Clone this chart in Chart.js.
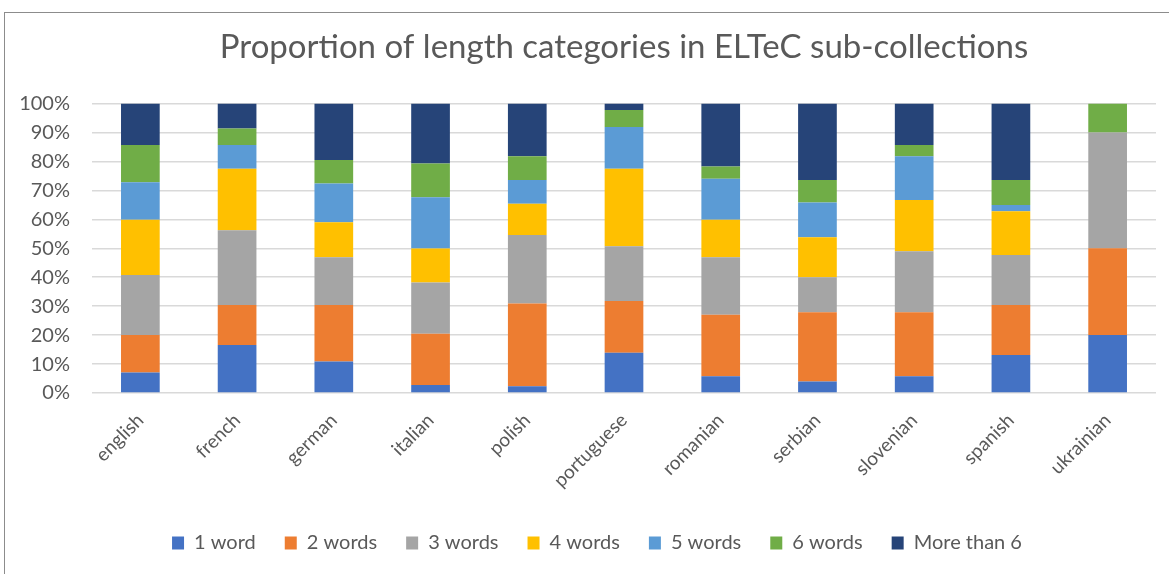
<!DOCTYPE html>
<html>
<head>
<meta charset="utf-8">
<script src="https://cdn.jsdelivr.net/npm/chart.js@4"></script>
<style>
  html, body { margin: 0; padding: 0; background: #fff; }
  #frame { position: absolute; left: 4px; top: 12px; width: 1180px; height: 580px; border-left: 1px solid #8c8c8c; border-top: 1px solid #8c8c8c; }
  #wrap { position: absolute; left: 0; top: 0; width: 1169px; height: 574px; }
</style>
</head>
<body>
<div id="frame"></div>
<div id="wrap"><canvas id="grafico"></canvas></div>
<script>
const categories = ['english', 'french', 'german', 'italian', 'polish', 'portuguese', 'romanian', 'serbian', 'slovenian', 'spanish', 'ukrainian'];

const oneWord    = [7.1, 16.6, 10.9, 2.8, 2.3, 13.9, 5.8, 4.0, 5.8, 13.1, 20];
const twoWords   = [12.9, 13.8, 19.5, 17.7, 28.6, 17.9, 21.2, 23.9, 22.1, 17.3, 30];
const threeWords = [20.8, 25.8, 16.5, 17.7, 23.7, 18.9, 19.9, 12.1, 21.1, 17.3, 40];
const fourWords  = [19.1, 21.3, 12.1, 11.7, 10.8, 26.8, 13.0, 13.8, 17.7, 15.1, 0];
const fiveWords  = [12.9, 8.2, 13.4, 17.7, 8.2, 14.4, 14.1, 12.0, 15.1, 2.2, 0];
const sixWords   = [12.9, 5.7, 8.1, 11.7, 8.2, 5.9, 4.3, 7.8, 3.9, 8.6, 10];
const moreThan6  = [14.3, 8.6, 19.5, 20.7, 18.2, 2.2, 21.7, 26.4, 14.3, 26.4, 0];

const yTicks = [0, 10, 20, 30, 40, 50, 60, 70, 80, 90, 100];

const txt = '#595959';
const ctx = document.getElementById('grafico');

// title centred over the plot area, legend nudged right (Excel-like)
const excelPlacement = {
    id: 'excelPlacement',
    afterLayout(chart) {
        const t = chart.titleBlock;
        if (t) {
            t.left = chart.chartArea.left;
            t.right = chart.chartArea.right;
        }
        if (chart.legend) {
            chart.legend.left = 38;
        }
    }
};

new Chart(ctx, {
    type: 'bar',
    data: {
        labels: categories,
        datasets: [
            { label: '1 word', data: oneWord, backgroundColor: '#4472C4' },
            { label: '2 words', data: twoWords, backgroundColor: '#ED7D31' },
            { label: '3 words', data: threeWords, backgroundColor: '#A5A5A5' },
            { label: '4 words', data: fourWords, backgroundColor: '#FFC000' },
            { label: '5 words', data: fiveWords, backgroundColor: '#5B9BD5' },
            { label: '6 words', data: sixWords, backgroundColor: '#70AD47' },
            { label: 'More than 6', data: moreThan6, backgroundColor: '#264478' }
        ]
    },
    plugins: [excelPlacement],
    options: {
        responsive: true,
        maintainAspectRatio: false,
        animation: false,
        layout: { padding: { left: 0, right: 13, top: 28, bottom: 11 } },
        datasets: { bar: { categoryPercentage: 1, barPercentage: 0.4, borderWidth: 0 } },
        scales: {
            x: {
                stacked: true,
                grid: { display: false },
                border: { display: false },
                afterFit: function (axis) { axis.height = 111; },
                ticks: {
                    color: txt,
                    font: { family: 'Lato', size: 19 },
                    minRotation: 45,
                    maxRotation: 45,
                    padding: 8
                }
            },
            y: {
                stacked: true,
                min: 0,
                max: 100,
                afterBuildTicks: function (axis) {
                    axis.ticks = yTicks.map(function (v) { return { value: v }; });
                },
                afterFit: function (axis) { axis.width = 92; },
                grid: { color: '#d9d9d9', lineWidth: 1.5, drawTicks: false },
                border: { display: false },
                ticks: {
                    color: txt,
                    font: { family: 'Lato', size: 20 },
                    padding: 22,
                    callback: function (v) { return v + '%'; }
                }
            }
        },
        plugins: {
            title: {
                display: true,
                text: 'Proportion of length categories in ELTeC sub-collections',
                color: txt,
                font: { family: 'Lato', size: 33, weight: 'normal' },
                padding: { top: 0, bottom: 36 }
            },
            legend: {
                position: 'bottom',
                labels: {
                    color: txt,
                    font: { family: 'Lato', size: 20 },
                    boxWidth: 12,
                    boxHeight: 13,
                    padding: 29
                }
            },
            tooltip: { enabled: false }
        }
    }
});
</script>
</body>
</html>
